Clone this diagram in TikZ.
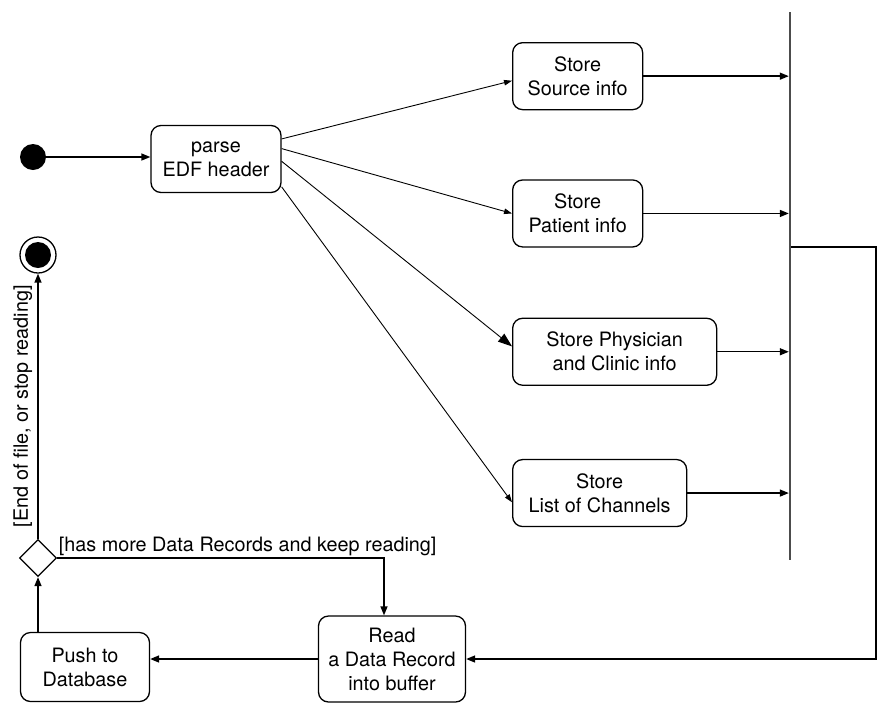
\documentclass[tikz,border=0pt]{standalone}
\usepackage{fontspec}
\setmainfont{TeX Gyre Heros}
\usetikzlibrary{positioning,shapes.geometric,arrows.meta}

\begin{document}
\begin{tikzpicture}[x=1pt,y=-1pt,font=\fontsize{19.8}{24}\selectfont,
		act/.style={draw,rounded corners=10pt,line width=1.3pt,align=center,minimum width=130pt,minimum height=67pt,inner sep=2pt},
		startnode/.style={circle,fill=black,inner sep=0pt,minimum size=26pt},
		endnode/.style={circle,draw,line width=1.3pt,inner sep=0pt,minimum size=36pt,
			path picture={\fill (path picture bounding box.center) circle (13pt);}},
		decision/.style={diamond,draw,line width=1.3pt,inner sep=0pt,minimum width=37pt,minimum height=37pt},
		forkbar/.style={fill=black!70,inner sep=0pt,minimum width=2pt,minimum height=548pt},
		flow/.style={-{Triangle[length=9pt,width=7pt]},line width=1.4pt},
		fan/.style={-{Triangle[length=8pt,width=5.5pt]},line width=0.9pt}]
		\useasboundingbox (0,0) rectangle (893,713);

		\node[act]											(1)	at (216,159) {parse\\EDF header};
		\node[startnode]									(0)	at (33,157) {};
		\node[act,anchor=north west]						(2)	at (512,42) {Store\\Source info};
		\node[act,below=69pt of 2.south west,anchor=north west]	(3)	{Store\\Patient info};
		\node[act,minimum width=204pt,below=70pt of 3.south west,anchor=north west]	(4)	{Store Physician\\and Clinic info};
		\node[act,minimum width=174pt,below=73pt of 4.south west,anchor=north west]	(5)	{Store\\List of Channels};
		\node[forkbar]										(6)	at (790,286) {};
		\node[act,minimum width=147pt,minimum height=86pt]	(7)	at (392,659) {Read\\a Data Record\\into buffer};
		\node[act,minimum width=129pt,minimum height=69pt]	(8)	at (85,667) {Push to\\Database};
		\node[decision]										(9)	at (38,558) {};
		\node[endnode]										(10) at (38,255) {};
		\coordinate											(c)	at (876,247);

		\draw[flow] (0) -- (0 -| 1.west);
		\draw[fan] (1.17) -- (2.184);
		\draw[fan] (1.9) -- (3.west);
		\draw[fan,-{Triangle[length=14pt,width=10pt]}] (1.358) -- (4.177);
		\draw[fan] (1.337) -- (5.186);

		\draw[flow] (2) -- (2 -| 6.west);
		\draw[flow] (3) -- (3 -| 6.west);
		\draw[flow] (4) -- (4 -| 6.west);
		\draw[flow] (5) -- (5 -| 6.west);

		\draw[flow] (c -| 6.east) -- (c) |- (7.east);
		\draw[flow] (7.west) -- (7.west -| 8.east);
		\draw[flow] (9.south |- 8.north) -- (9.south);
		\draw[flow] (9.north) -- node[midway,sloped,above,inner sep=5pt] {[End of file, or stop reading]} (10.south);
		\draw[flow] (9.east) -| node[pos=0,anchor=south west,inner sep=1pt] {[has more Data Records and keep reading]} ([xshift=-8pt]7.north);
	\end{tikzpicture}
\end{document}
